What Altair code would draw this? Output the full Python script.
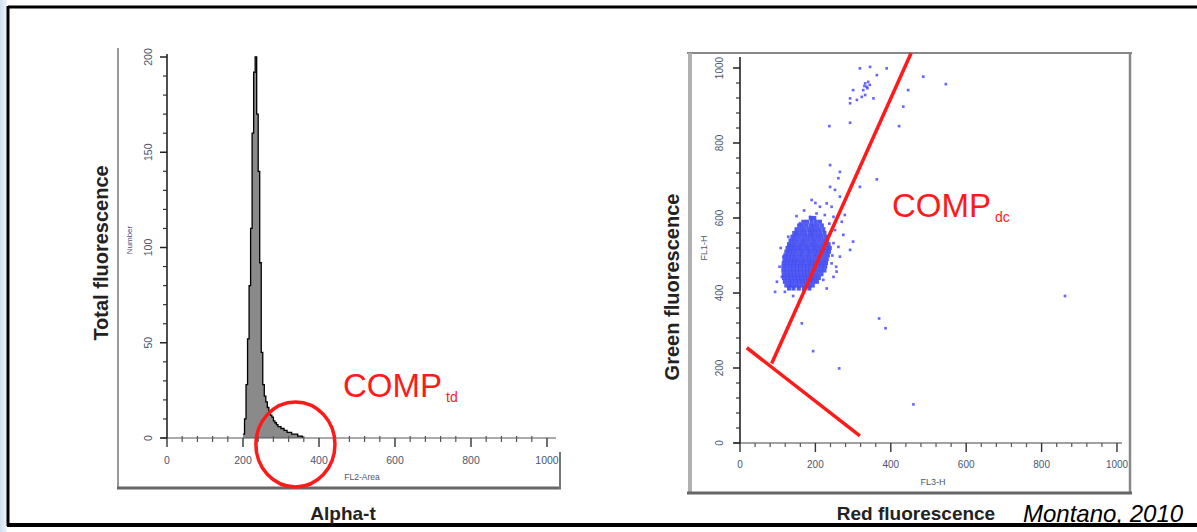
import altair as alt
import pandas as pd

W, H = 1197, 532
FONT = "Liberation Sans"

# ---------------- data: histogram (left panel) ----------------
hist_bin = [200, 204, 208, 212, 216, 220, 224, 228, 232, 236, 240, 244, 248, 252, 256,
            260, 264, 268, 272, 276, 280, 284, 288, 292, 296, 300, 304, 308, 312, 316,
            320, 324, 328, 332, 336, 340, 344, 348, 352, 356]
hist_count = [2, 10, 28, 52, 80, 110, 160, 192, 200, 170, 140, 92, 45, 28, 22,
              19, 16, 14, 12, 11, 9, 8, 7, 6, 6, 5, 5, 4, 4, 3,
              3, 3, 2, 2, 2, 2, 1, 1, 1, 0]

hist_x_ticks = [0, 200, 400, 600, 800, 1000]
hist_x_labels = ["0", "200", "400", "600", "800", "1000"]
hist_y_ticks = [0, 50, 100, 150, 200]
hist_y_labels = ["0", "50", "100", "150", "200"]

scat_ticks = [0, 200, 400, 600, 800, 1000]
scat_labels = ["0", "200", "400", "600", "800", "1000"]

# ---------------- data: scatter (right panel) ----------------
blob_rows_y = [600, 590, 580, 570, 560, 550, 540, 530, 520, 510, 500, 490, 480,
               470, 460, 450, 440, 430, 420, 412]
blob_rows_x = [
    [188, 197],
    [168, 178, 190, 201, 212],
    [157, 166, 176, 187, 196, 206, 217],
    [150, 160, 170, 181, 191, 200, 210, 221],
    [144, 153, 163, 173, 184, 193, 203, 213, 224],
    [139, 148, 158, 168, 178, 188, 197, 207, 217, 228],
    [134, 143, 153, 163, 172, 182, 192, 201, 211, 221, 231],
    [130, 139, 148, 158, 167, 177, 187, 196, 206, 216, 226, 235],
    [126, 135, 144, 154, 163, 173, 182, 192, 201, 211, 221, 230, 238],
    [123, 132, 141, 150, 160, 169, 179, 188, 198, 207, 217, 227, 236],
    [120, 129, 138, 147, 157, 166, 176, 185, 195, 204, 214, 224, 233],
    [118, 127, 136, 145, 154, 164, 173, 183, 192, 202, 211, 221, 230],
    [116, 125, 134, 143, 152, 162, 171, 181, 190, 199, 209, 218, 228],
    [115, 124, 133, 142, 151, 160, 170, 179, 188, 198, 207, 217, 226],
    [115, 124, 133, 142, 151, 160, 169, 178, 187, 196, 206, 215, 224],
    [116, 125, 134, 143, 152, 161, 170, 179, 188, 197, 206, 216],
    [117, 127, 136, 145, 154, 163, 172, 181, 190, 199, 209],
    [119, 129, 138, 148, 157, 166, 175, 185, 194, 204],
    [123, 133, 143, 153, 163, 173, 183, 193],
    [130, 142, 156, 170, 184],
]

halo_x = [93, 119, 141, 190, 230, 256, 265, 292, 300, 274, 278, 265, 239, 261, 265,
          239, 318, 363, 190, 212, 243, 248, 252, 248, 261, 243, 248, 221, 168, 133,
          111, 115, 128, 159, 186, 203, 225, 230, 252, 105, 108, 245, 255, 237, 150,
          170, 200, 98, 270]
halo_y = [403, 403, 392, 435, 412, 457, 497, 515, 537, 555, 608, 657, 683, 706, 723,
          741, 683, 703, 648, 630, 630, 603, 568, 533, 523, 479, 443, 435, 408, 421,
          443, 497, 550, 586, 603, 612, 608, 639, 675, 470, 520, 500, 470, 585, 605,
          620, 640, 430, 590]

top_x = [318, 345, 389, 363, 332, 336, 327, 332, 300, 292, 292, 310, 323, 354, 340,
         446, 433, 292, 237, 422, 486, 546, 330, 338, 344]
top_y = [999, 1003, 999, 981, 959, 950, 941, 928, 941, 919, 906, 915, 923, 919, 963,
         941, 897, 854, 845, 845, 977, 957, 952, 946, 955]

out_x = [164, 194, 263, 369, 386, 460, 862]
out_y = [319, 245, 199, 332, 306, 103, 392]

# gate lines (right panel) and circle (left panel)
gate1_x = [84, 454]
gate1_y = [212, 1040]
gate2_x = [18, 318]
gate2_y = [254, 19]
circle_x = [338]
circle_y = [-3.4]

# ---------------- scales ----------------
LX = alt.Scale(domain=[0, 1000], range=[167, 547], nice=False, zero=False)
LY = alt.Scale(domain=[0, 200], range=[438, 57], nice=False)
RX = alt.Scale(domain=[0, 1000], range=[740, 1117], nice=False, zero=False)
RY = alt.Scale(domain=[0, 1000], range=[443, 68], nice=False)

one = pd.DataFrame({"a": [0]})
layers = []


def rule(x, x2, y, y2, color, width):
    return alt.Chart(one).mark_rule(color=color, strokeWidth=width).encode(
        x=alt.value(x), x2=alt.value(x2), y=alt.value(y), y2=alt.value(y2))


def text(t, x, y, **kw):
    return alt.Chart(one).mark_text(text=t, font=kw.pop("font", FONT), **kw).encode(
        x=alt.value(x), y=alt.value(y))


def xticks(vals, sx, y0, y1, color="#333", width=1.2):
    return alt.Chart(pd.DataFrame({"v": vals})).mark_rule(color=color, strokeWidth=width).encode(
        x=alt.X("v:Q", scale=sx, axis=None), y=alt.value(y0), y2=alt.value(y1))


def yticks(vals, sy, x0, x1, color="#333", width=1.2):
    return alt.Chart(pd.DataFrame({"v": vals})).mark_rule(color=color, strokeWidth=width).encode(
        y=alt.Y("v:Q", scale=sy, axis=None), x=alt.value(x0), x2=alt.value(x1))


def xlabels(vals, labs, sx, y, size=10.5):
    return alt.Chart(pd.DataFrame({"v": vals, "t": labs})).mark_text(
        font=FONT, fontSize=size, color="#4a5670", baseline="middle").encode(
        x=alt.X("v:Q", scale=sx, axis=None), y=alt.value(y), text="t:N")


def ylabels(vals, labs, sy, x, size=10.5):
    return alt.Chart(pd.DataFrame({"v": vals, "t": labs})).mark_text(
        font=FONT, fontSize=size, color="#4a5670", angle=270, baseline="middle").encode(
        y=alt.Y("v:Q", scale=sy, axis=None), x=alt.value(x), text="t:N")


# background + outer slide frame
layers.append(alt.Chart(one).mark_rect(color="white").encode(
    x=alt.value(0), x2=alt.value(W), y=alt.value(0), y2=alt.value(H)))
layers.append(alt.Chart(one).mark_rect(color=alt.Gradient(
    gradient="linear", x1=0, x2=1, y1=0, y2=0,
    stops=[alt.GradientStop(offset=0, color="#cddff2"),
           alt.GradientStop(offset=1, color="#eef4fb")])).encode(
    x=alt.value(0), x2=alt.value(7), y=alt.value(0), y2=alt.value(H)))
layers.append(rule(8, W, 7, 7, "black", 3))
layers.append(rule(8, 8, 6, 526, "black", 3))
layers.append(rule(7, W, 525, 525, "black", 4))

# ---------------- left panel ----------------
layers.append(rule(118, 118, 48, 488, "#9a9a9a", 2))
layers.append(rule(117, 561, 488, 488, "#666", 3))
layers.append(rule(560, 560, 452, 489, "#777", 2))

hist_df = pd.DataFrame({"bin": hist_bin, "count": hist_count})
layers.append(alt.Chart(hist_df).mark_area(interpolate="step-after", color="#8a8a8a").encode(
    x=alt.X("bin:Q", scale=LX, axis=None), y=alt.Y("count:Q", scale=LY, axis=None)))
layers.append(alt.Chart(hist_df).mark_line(interpolate="step-after", color="black", strokeWidth=1.3).encode(
    x=alt.X("bin:Q", scale=LX, axis=None), y=alt.Y("count:Q", scale=LY, axis=None)))

# axes left
layers.append(rule(161, 556, 438, 438, "#555", 1))
layers.append(rule(167, 167, 438, 54, "#222", 1.6))
hx_minor = [v for v in range(40, 1000, 40) if v % 200 != 0]
hy_minor = [v for v in range(10, 200, 10) if v % 50 != 0]
layers.append(xticks(hist_x_ticks, LX, 438, 447, "#333", 1.4))
layers.append(xticks(hx_minor, LX, 436, 442, "#555", 1.2))
layers.append(yticks(hist_y_ticks, LY, 160, 167, "#222", 1.5))
layers.append(yticks(hy_minor, LY, 163, 167, "#333", 1.2))
layers.append(xlabels(hist_x_ticks, hist_x_labels, LX, 461))
layers.append(ylabels(hist_y_ticks, hist_y_labels, LY, 149))
layers.append(text("Number", 130, 240, fontSize=8, color="#5a4a7a", angle=270, align="center", baseline="middle"))
layers.append(text("FL2-Area", 362, 477, fontSize=8.5, color="#4a5670", align="center", baseline="middle"))

# gate circle
layers.append(alt.Chart(pd.DataFrame({"x": circle_x, "y": circle_y})).mark_point(
    shape="M -0.93,0 A 0.93,1 0 1,1 0.93,0 A 0.93,1 0 1,1 -0.93,0 Z",
    size=85 * 85, filled=False, stroke="#ff1a1a", strokeWidth=3.5, opacity=1).encode(
    x=alt.X("x:Q", scale=LX, axis=None), y=alt.Y("y:Q", scale=LY, axis=None)))

layers.append(text("COMP", 343, 397, fontSize=33, color="#ff1a1a", align="left", baseline="alphabetic"))
layers.append(text("td", 446, 402, fontSize=14, color="#ff1a1a", align="left", baseline="alphabetic"))
layers.append(text("Total fluorescence", 102, 253, fontSize=20, fontWeight="bold", color="#222",
                   angle=270, align="center", baseline="middle"))
layers.append(text("Alpha-t", 343, 514, fontSize=19, fontWeight="bold", color="#222",
                   align="center", baseline="middle"))

# ---------------- right panel ----------------
layers.append(rule(687, 1132, 53, 53, "#888", 2))
layers.append(rule(690, 690, 53, 493, "#b0b0b0", 4))
layers.append(rule(1130, 1130, 53, 494, "#888", 2.5))
layers.append(rule(687, 1132, 493, 493, "#666", 3))

layers.append(rule(734, 1122, 443, 443, "#444", 1.2))
layers.append(rule(740, 740, 443, 57, "#222", 1.6))
s_minor = [v for v in range(40, 1000, 40) if v % 200 != 0]
layers.append(xticks(scat_ticks, RX, 443, 452, "#333", 1.4))
layers.append(xticks(s_minor, RX, 443, 447, "#555", 1.2))
layers.append(yticks(scat_ticks, RY, 733, 740, "#222", 1.5))
layers.append(yticks(s_minor, RY, 736, 740, "#333", 1.2))
layers.append(xlabels(scat_ticks, scat_labels, RX, 465, 10))
layers.append(ylabels(scat_ticks, scat_labels, RY, 720, 10))
layers.append(text("FL1-H", 704, 248, fontSize=9, color="#4a5670", angle=270, align="center", baseline="middle"))
layers.append(text("FL3-H", 933, 482, fontSize=9, color="#4a5670", align="center", baseline="middle"))

bx, by = [], []
for yv, xs in zip(blob_rows_y, blob_rows_x):
    for xv in xs:
        bx.append(xv)
        by.append(yv)
blob_df = pd.DataFrame({"x": bx, "y": by})
sparse_df = pd.DataFrame({"x": halo_x + top_x + out_x, "y": halo_y + top_y + out_y})

layers.append(alt.Chart(blob_df).mark_square(size=17, color="#3d48f2", opacity=0.9).encode(
    x=alt.X("x:Q", scale=RX, axis=None), y=alt.Y("y:Q", scale=RY, axis=None)))
layers.append(alt.Chart(sparse_df).mark_square(size=7, color="#4a4aff", opacity=0.85).encode(
    x=alt.X("x:Q", scale=RX, axis=None), y=alt.Y("y:Q", scale=RY, axis=None)))

for gx, gy in [(gate1_x, gate1_y), (gate2_x, gate2_y)]:
    layers.append(alt.Chart(pd.DataFrame({"x": gx, "y": gy})).mark_line(
        color="#ff1a1a", strokeWidth=3.5).encode(
        x=alt.X("x:Q", scale=RX, axis=None), y=alt.Y("y:Q", scale=RY, axis=None)))

layers.append(text("COMP", 892, 217, fontSize=33, color="#ff1a1a", align="left", baseline="alphabetic"))
layers.append(text("dc", 995, 222, fontSize=14, color="#ff1a1a", align="left", baseline="alphabetic"))
layers.append(text("Green fluorescence", 673, 287, fontSize=20, fontWeight="bold", color="#222",
                   angle=270, align="center", baseline="middle"))
layers.append(text("Red fluorescence", 916, 514, fontSize=19, fontWeight="bold", color="#222",
                   align="center", baseline="middle"))
layers.append(text("Montano, 2010", 1023, 522, fontSize=24, fontStyle="italic", color="black",
                   align="left", baseline="alphabetic"))

chart = alt.layer(*layers).resolve_scale(x="independent", y="independent").properties(
    width=W, height=H, padding=0, autosize=alt.AutoSizeParams(type="none"),
    background="white").configure_view(stroke=None)

chart.save("out.html", embed_options={"renderer": "svg", "actions": False})
